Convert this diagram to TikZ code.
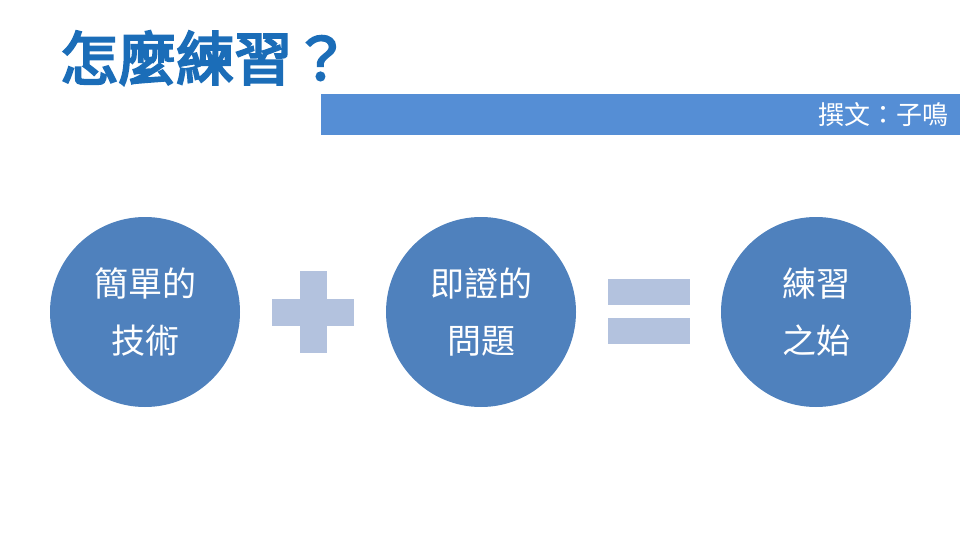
\documentclass[tikz,border=0pt]{standalone}
\usepackage{xcolor}
\usepackage{fontspec}
\usepackage{tikz}
\usetikzlibrary{positioning, calc}
\newfontfamily\cjk{Noto Sans CJK TC}
\newfontfamily\cjkheavy[FakeBold=4]{Noto Sans CJK TC}
\definecolor{circblue}{HTML}{4F81BD}
\definecolor{barblue}{HTML}{558ED5}
\definecolor{titleblue}{HTML}{1B6DB8}
\definecolor{signblue}{HTML}{B3C2DE}

\begin{document}
\begin{tikzpicture}[
            x=1pt, y=-1pt,
            circ/.style={
                    circle,
                    fill=circblue,
                    minimum size=190pt,
                    inner sep=0pt,
                    align=center,
                    text=white,
                    font=\cjk\fontsize{34}{57}\selectfont
                },
            sign/.style={
                    fill=signblue
                }
        ]

        \useasboundingbox (0,0) rectangle (960,540);

        % title and author bar
        \node[anchor=west, inner sep=0pt, text=titleblue,
            font=\cjkheavy\fontsize{58}{58}\selectfont] (title) at (60,58)
        {怎麼練習？};

        \fill[barblue] (321,94) rectangle (960,135);
        \node[anchor=east, inner sep=0pt, text=white,
            font=\cjk\fontsize{26}{26}\selectfont] (author) at (949,115)
        {撰文：子鳴};


        \node[circ] (skill) at (145,312)
        {簡單的\\技術};


        \node[circ] (problem) at (481,312)
        {即證的\\問題};


        \node[circ] (start) at (816,312)
        {練習\\之始};


        % plus and equals
        \coordinate (plus) at ($(skill)!0.5!(problem)$);
        \coordinate (equals) at ($(problem)!0.5!(start)$);

        \fill[sign] ([shift={(-41,-13.5)}]plus) rectangle ([shift={(41,13.5)}]plus);
        \fill[sign] ([shift={(-13.5,-41)}]plus) rectangle ([shift={(13.5,41)}]plus);

        \fill[sign] ([shift={(-41,-33)}]equals) rectangle ([shift={(41,-7)}]equals);
        \fill[sign] ([shift={(-41,6)}]equals) rectangle ([shift={(41,32)}]equals);

    \end{tikzpicture}
\end{document}
